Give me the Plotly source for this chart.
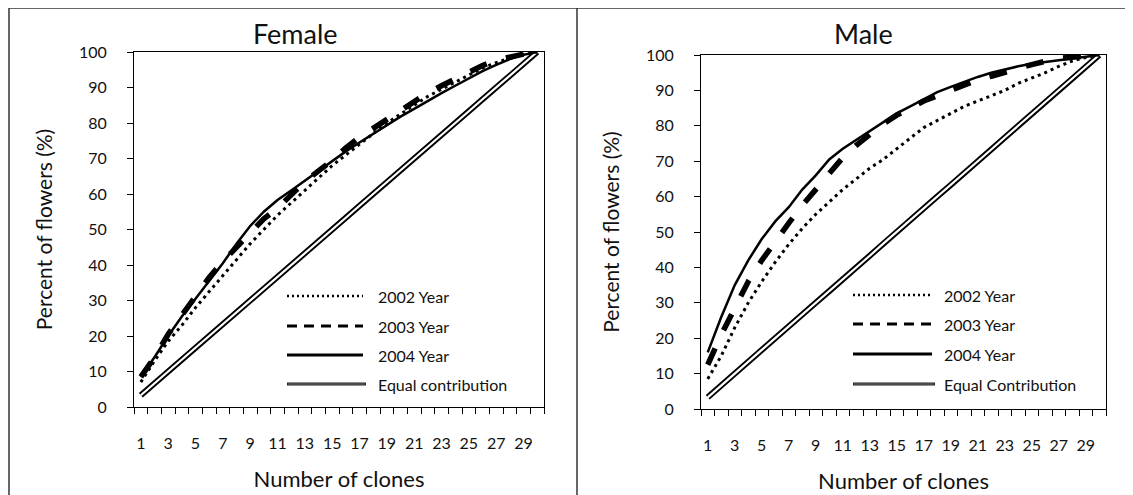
import plotly.graph_objects as go

# the page body has an 8px margin, so the figure is drawn 8px smaller and
# all reference pixel positions are shifted by that offset
OFF = 8
W, H = 1133 - OFF, 495 - OFF

clones = list(range(1, 31))
tick_labels = [str(i) for i in range(1, 30, 2)]
y_ticks = list(range(0, 101, 10))

female_2002 = [7, 13, 18.5, 23, 28, 32.5, 37, 41.5, 46, 50, 54, 57.5, 61, 64.5, 68,
               71, 74, 77, 80, 82.5, 85, 87.5, 89.5, 91.5, 93.5, 95.5, 97, 98.3, 99.3, 100]
female_2003 = [8.5, 14, 20.5, 26, 31.5, 36.5, 41, 45, 49.5, 53, 56, 60, 63.5, 66.5, 69.5,
               73, 76, 78.5, 81, 83.5, 86, 88.5, 90.5, 92.5, 94.5, 96.2, 97.7, 98.7, 99.4, 100]
female_2004 = [8.5, 14, 20, 25.5, 30.5, 35.5, 40.5, 46, 51, 55, 58.3, 61, 63.8, 66.5, 69.3,
               72, 74.5, 77, 79.5, 81.8, 84, 86.3, 88.4, 90.5, 92.6, 94.6, 96.4, 98, 99.2, 100]
male_2002 = [8.5, 15, 23, 30, 36, 41.5, 46.5, 51, 55, 58.5, 62, 65, 68, 70.5, 73.5,
             76.5, 79.5, 81.5, 83.5, 85.5, 87, 88.5, 90, 92, 93.5, 95, 96.8, 98.3, 99.3, 100]
male_2003 = [12.5, 21, 28.5, 36, 42, 47.5, 52.5, 57.5, 62, 66.5, 71, 74.5, 77.5, 80.5, 83,
             85, 87, 88.5, 90, 91.5, 93, 94, 95.2, 96.2, 97.3, 98.2, 99, 99.4, 99.7, 100]
male_2004 = [16, 26, 35, 42, 48, 53, 57, 62, 66, 70.5, 73.5, 76, 78.5, 81, 83.5,
             85.5, 87.5, 89.5, 91, 92.5, 93.8, 95, 96, 96.8, 97.5, 98, 98.5, 99, 99.5, 100]
equal_contribution = [3.3, 6.7, 10, 13.3, 16.7, 20, 23.3, 26.7, 30, 33.3, 36.7, 40, 43.3, 46.7, 50,
                      53.3, 56.7, 60, 63.3, 66.7, 70, 73.3, 76.7, 80, 83.3, 86.7, 90, 93.3, 96.7, 100]

panels = [
    dict(title="Female", eq_name="Equal contribution",
         s2002=female_2002, s2003=female_2003, s2004=female_2004),
    dict(title="Male", eq_name="Equal Contribution",
         s2002=male_2002, s2003=male_2003, s2004=male_2004),
]

FONT = "Lato, 'Open Sans', sans-serif"
TXT = "#111"

def px(x):
    return (x - OFF) / W

def py(y):
    return 1 - (y - OFF) / H

# plot-area boxes in reference pixels: (left, right, top, bottom)
boxes = [(134, 544, 52, 407), (701, 1106, 55, 409)]
title_pos = [(295, 33), (863, 33)]
legend_pos = [dict(x0=287, x1=363, tx=376, ys=[296, 326, 355, 384]),
              dict(x0=853, x1=932, tx=942, ys=[295, 324, 354, 384])]

fig = go.Figure()
shapes = []
annotations = []

for k, p in enumerate(panels):
    xa = "x" if k == 0 else "x2"
    ya = "y" if k == 0 else "y2"
    fig.add_trace(go.Scatter(x=clones, y=equal_contribution, mode="lines", name=p["eq_name"],
                             line=dict(color="black", width=6), xaxis=xa, yaxis=ya,
                             showlegend=False, hoverinfo="skip"))
    fig.add_trace(go.Scatter(x=clones, y=equal_contribution, mode="lines", name=p["eq_name"],
                             line=dict(color="white", width=2.2), xaxis=xa, yaxis=ya,
                             showlegend=False))
    fig.add_trace(go.Scatter(x=clones, y=p["s2002"], mode="lines", name="2002 Year",
                             line=dict(color="black", width=3, dash="3px,4px"),
                             xaxis=xa, yaxis=ya, showlegend=False))
    fig.add_trace(go.Scatter(x=clones, y=p["s2004"], mode="lines", name="2004 Year",
                             line=dict(color="black", width=2.5), xaxis=xa, yaxis=ya,
                             showlegend=False))
    fig.add_trace(go.Scatter(x=clones, y=p["s2003"], mode="lines", name="2003 Year",
                             line=dict(color="black", width=5.5, dash="18px,20px"),
                             xaxis=xa, yaxis=ya, showlegend=False))

    l, r, t, b = boxes[k]
    axis_common = dict(showgrid=False, zeroline=False, showline=True, linecolor="black",
                       linewidth=1, mirror=True, automargin=False)
    xaxis = dict(axis_common, domain=[px(l), px(r)], range=[0.5, 30.5],
                 tickmode="array", tickvals=list(range(1, 30, 2)), ticktext=tick_labels,
                 ticks="", ticklabelstandoff=22,
                 tickfont=dict(family=FONT, size=16, color=TXT),
                 minor=dict(tickmode="array", tickvals=[i + 0.5 for i in range(0, 31)],
                            ticks="outside", ticklen=6, tickcolor="black", tickwidth=1),
                 title=dict(text="Number of clones", font=dict(family=FONT, size=22, color=TXT),
                            standoff=20),
                 anchor=ya)
    yaxis = dict(axis_common, domain=[py(b), py(t)], range=[0, 100],
                 tickmode="array", tickvals=y_ticks, ticks="outside", ticklen=6,
                 tickcolor="black", ticklabelstandoff=17,
                 tickfont=dict(family=FONT, size=16, color=TXT),
                 title=dict(text="Percent of flowers (%)", font=dict(family=FONT, size=21, color=TXT),
                            standoff=20),
                 anchor=xa)
    if k == 0:
        fig.update_layout(xaxis=xaxis, yaxis=yaxis)
    else:
        fig.update_layout(xaxis2=xaxis, yaxis2=yaxis)

    tx, ty = title_pos[k]
    annotations.append(dict(text=p["title"], x=px(tx), y=py(ty), xref="paper", yref="paper",
                            xanchor="center", yanchor="middle", showarrow=False,
                            font=dict(family=FONT, size=27, color=TXT)))

    # legend
    lg = legend_pos[k]
    names = ["2002 Year", "2003 Year", "2004 Year", p["eq_name"]]
    styles = [dict(width=2.5, dash="2px,3px"), dict(width=3, dash="10px,7px"),
              dict(width=3, dash="solid"), None]
    for j, (nm, st) in enumerate(zip(names, styles)):
        yy = py(lg["ys"][j])
        if st is None:
            shapes.append(dict(type="line", xref="paper", yref="paper", x0=px(lg["x0"]), x1=px(lg["x1"] + 3),
                               y0=yy, y1=yy, line=dict(color="#222", width=3)))
            shapes.append(dict(type="line", xref="paper", yref="paper", x0=px(lg["x0"] + 1), x1=px(lg["x1"] + 2),
                               y0=yy, y1=yy, line=dict(color="#888", width=0.8)))
        else:
            shapes.append(dict(type="line", xref="paper", yref="paper", x0=px(lg["x0"]), x1=px(lg["x1"]),
                               y0=yy, y1=yy, line=dict(color="black", **st)))
        annotations.append(dict(text=nm, x=px(lg["tx"]), y=yy, xref="paper", yref="paper",
                                xanchor="left", yanchor="middle", showarrow=False,
                                font=dict(family=FONT, size=16, color=TXT)))

# outer frame
frame_col = "#333"
shapes.append(dict(type="line", xref="paper", yref="paper", x0=px(9), x1=1, y0=py(8), y1=py(8),
                   line=dict(color=frame_col, width=1.5)))
shapes.append(dict(type="line", xref="paper", yref="paper", x0=px(9), x1=px(9), y0=py(8), y1=0,
                   line=dict(color=frame_col, width=1.5)))
shapes.append(dict(type="line", xref="paper", yref="paper", x0=px(577), x1=px(577), y0=py(8), y1=0,
                   line=dict(color=frame_col, width=1.5)))

fig.update_layout(width=W, height=H, margin=dict(l=0, r=0, t=0, b=0),
                  paper_bgcolor="white", plot_bgcolor="white", showlegend=False,
                  shapes=shapes, annotations=annotations)

fig.write_html("out.html")
